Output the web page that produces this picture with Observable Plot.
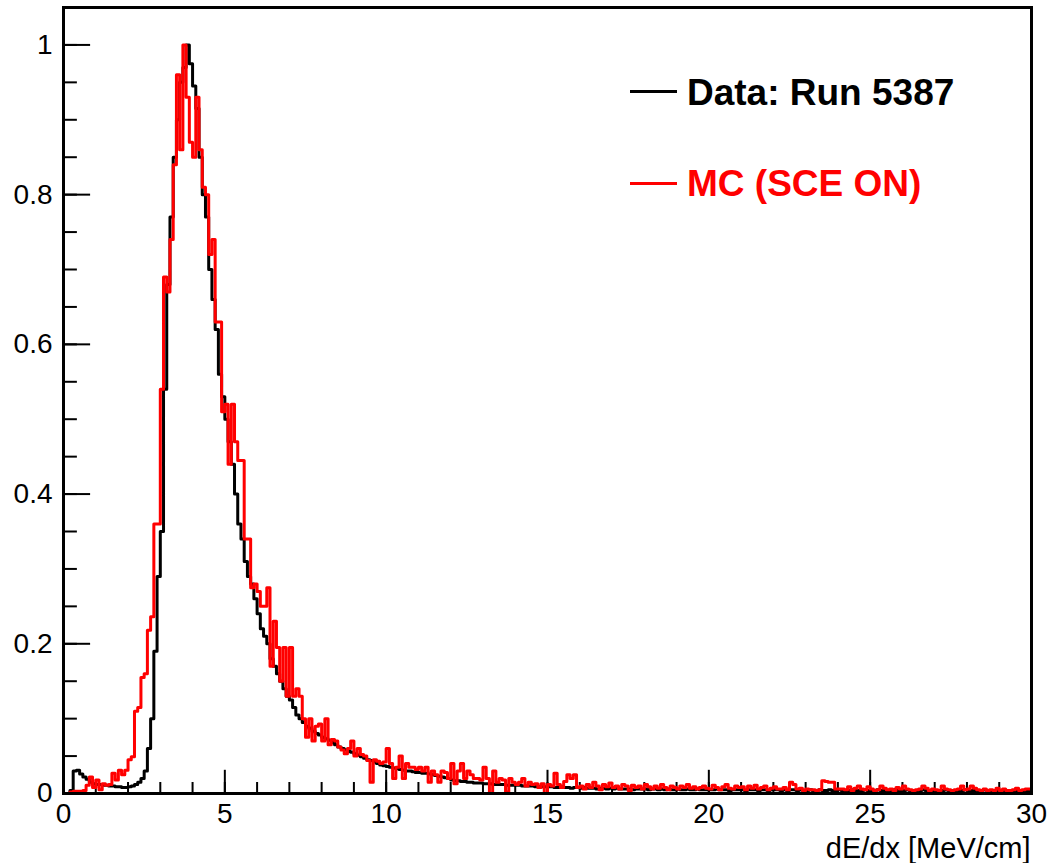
<!DOCTYPE html>
<html>
<head>
<meta charset="utf-8">
<script src="https://cdn.jsdelivr.net/npm/d3@7"></script>
<script src="https://cdn.jsdelivr.net/npm/@observablehq/plot@0.6"></script>
<style>
  body { margin: 0; background: #fff; }
  #wrap { position: relative; width: 1048px; height: 863px; font-family: "Liberation Sans", Arial, Helvetica, sans-serif; }
  .legline { position: absolute; height: 2.5px; }
  .legtext { position: absolute; font-weight: bold; font-size: 37px; line-height: 1; white-space: nowrap; }
</style>
</head>
<body>
<div id="wrap"></div>
<script>
// Histogram bin width (MeV/cm); 300 bins from 0 to 30
const binWidth = 0.1;
const xDomain = [0, 30];
const yDomain = [0, 1.05];

// Data: Run 5387 (normalized), one row per 1 MeV/cm
const dataRun5387 = [
  0, 0, 0.004, 0.03, 0.031, 0.026, 0.022, 0.019, 0.015, 0.013,
  0.012, 0.012, 0.011, 0.011, 0.01, 0.01, 0.009, 0.009, 0.008, 0.008,
  0.009, 0.01, 0.012, 0.015, 0.02, 0.03, 0.06, 0.1, 0.19, 0.29,
  0.35, 0.54, 0.68, 0.77, 0.85, 0.9, 0.95, 0.97, 1.0, 0.975,
  0.945, 0.915, 0.85, 0.8, 0.77, 0.7, 0.66, 0.62, 0.56, 0.53,
  0.5, 0.47, 0.44, 0.4, 0.36, 0.34, 0.31, 0.29, 0.28, 0.26,
  0.24, 0.22, 0.21, 0.2, 0.18, 0.17, 0.16, 0.15, 0.14, 0.13,
  0.125, 0.115, 0.105, 0.1, 0.095, 0.09, 0.087, 0.083, 0.08, 0.078,
  0.075, 0.073, 0.071, 0.068, 0.065, 0.062, 0.06, 0.058, 0.056, 0.055,
  0.053, 0.051, 0.049, 0.047, 0.045, 0.044, 0.042, 0.04, 0.038, 0.037,
  0.036, 0.035, 0.034, 0.033, 0.032, 0.031, 0.03, 0.03, 0.029, 0.028,
  0.028, 0.027, 0.027, 0.026, 0.025, 0.024, 0.023, 0.022, 0.021, 0.02,
  0.018, 0.017, 0.017, 0.016, 0.016, 0.015, 0.015, 0.014, 0.014, 0.014,
  0.013, 0.013, 0.013, 0.012, 0.012, 0.012, 0.012, 0.011, 0.011, 0.011,
  0.011, 0.011, 0.01, 0.01, 0.01, 0.01, 0.009, 0.009, 0.009, 0.009,
  0.009, 0.009, 0.008, 0.008, 0.009, 0.008, 0.008, 0.007, 0.008, 0.008,
  0.007, 0.008, 0.007, 0.007, 0.007, 0.006, 0.007, 0.007, 0.006, 0.007,
  0.006, 0.007, 0.006, 0.006, 0.006, 0.006, 0.005, 0.006, 0.006, 0.006,
  0.006, 0.005, 0.006, 0.006, 0.005, 0.006, 0.005, 0.006, 0.005, 0.005,
  0.006, 0.005, 0.005, 0.006, 0.005, 0.005, 0.006, 0.005, 0.005, 0.005,
  0.005, 0.005, 0.006, 0.005, 0.005, 0.005, 0.004, 0.005, 0.005, 0.005,
  0.005, 0.004, 0.005, 0.005, 0.005, 0.004, 0.005, 0.005, 0.004, 0.005,
  0.005, 0.005, 0.004, 0.005, 0.004, 0.005, 0.005, 0.004, 0.005, 0.004,
  0.004, 0.005, 0.004, 0.004, 0.005, 0.004, 0.004, 0.005, 0.004, 0.004,
  0.005, 0.004, 0.004, 0.004, 0.005, 0.004, 0.004, 0.004, 0.005, 0.004,
  0.004, 0.004, 0.005, 0.004, 0.004, 0.004, 0.004, 0.005, 0.004, 0.004,
  0.004, 0.005, 0.004, 0.004, 0.004, 0.004, 0.005, 0.004, 0.004, 0.004,
  0.004, 0.004, 0.004, 0.005, 0.004, 0.004, 0.004, 0.004, 0.004, 0.005,
  0.004, 0.004, 0.004, 0.004, 0.004, 0.005, 0.004, 0.004, 0.004, 0.004,
  0.004, 0.004, 0.003, 0.004, 0.004, 0.004, 0.004, 0.003, 0.004, 0.004
];

// MC (SCE ON) (normalized)
const mcSceOn = [
  0, 0, 0.002, 0.003, 0.003, 0.003, 0.004, 0.011, 0.022, 0.008,
  0.018, 0.005, 0.013, 0.011, 0.012, 0.027, 0.018, 0.031, 0.025, 0.031,
  0.045, 0.049, 0.11, 0.115, 0.155, 0.16, 0.218, 0.236, 0.36, 0.36,
  0.54, 0.69, 0.67, 0.74, 0.84, 0.96, 0.86, 1.0, 0.93, 0.87,
  0.85, 0.93, 0.86, 0.81, 0.8, 0.72, 0.74, 0.63, 0.63, 0.51,
  0.52, 0.44, 0.52, 0.47, 0.445, 0.445, 0.34, 0.34, 0.275, 0.28,
  0.27, 0.25, 0.25, 0.275, 0.17, 0.23, 0.195, 0.15, 0.195, 0.13,
  0.195, 0.13, 0.14, 0.13, 0.1, 0.075, 0.1, 0.07, 0.09, 0.093,
  0.07, 0.1, 0.065, 0.072, 0.07, 0.062, 0.058, 0.053, 0.06, 0.07,
  0.05, 0.06, 0.052, 0.05, 0.044, 0.015, 0.045, 0.043, 0.04, 0.042,
  0.06, 0.04, 0.02, 0.035, 0.05, 0.02, 0.04, 0.035, 0.035, 0.032,
  0.035, 0.03, 0.035, 0.015, 0.03, 0.025, 0.015, 0.03, 0.028, 0.02,
  0.04, 0.013, 0.03, 0.04, 0.02, 0.03, 0.025, 0.02, 0.02, 0.018,
  0.035, 0.02, 0.0, 0.03, 0.015, 0.02, 0.018, 0.002, 0.02, 0.015,
  0.012, 0.015, 0.02, 0.01, 0.015, 0.012, 0.013, 0.008, 0.013, 0.0,
  0.012, 0.01, 0.027, 0.012, 0.008, 0.016, 0.025, 0.02, 0.025, 0.008,
  0.01, 0.006, 0.012, 0.008, 0.015, 0.01, 0.005, 0.012, 0.009, 0.014,
  0.008, 0.01, 0.006, 0.012, 0.01, 0.004, 0.011, 0.008, 0.01, 0.006,
  0.012, 0.009, 0.006, 0.01, 0.007, 0.012, 0.008, 0.005, 0.01, 0.008,
  0.006, 0.01, 0.008, 0.012, 0.007, 0.009, 0.006, 0.008, 0.01, 0.007,
  0.006, 0.011, 0.008, 0.005, 0.009, 0.012, 0.007, 0.006, 0.01, 0.008,
  0.009, 0.005, 0.01, 0.007, 0.011, 0.006, 0.008, 0.01, 0.005, 0.007,
  0.009, 0.006, 0.006, 0.008, 0.005, 0.015, 0.012, 0.006, 0.007, 0.004,
  0.006, 0.005, 0.005, 0.004, 0.005, 0.017, 0.016, 0.015, 0.015, 0.006,
  0.006, 0.006, 0.005, 0.009, 0.004, 0.007, 0.01, 0.006, 0.005, 0.009,
  0.006, 0.004, 0.005, 0.01, 0.007, 0.005, 0.006, 0.004, 0.008, 0.006,
  0.01, 0.006, 0.005, 0.004, 0.005, 0.006, 0.01, 0.007, 0.004, 0.006,
  0.005, 0.004, 0.01, 0.006, 0.005, 0.004, 0.005, 0.006, 0.01, 0.005,
  0.006, 0.01, 0.007, 0.005, 0.004, 0.006, 0.004, 0.005, 0.004, 0.007,
  0.004, 0.006, 0.004, 0.004, 0.005, 0.007, 0.004, 0.005, 0.006, 0.006
];

const xMajorTicks = [0, 5, 10, 15, 20, 25, 30];
const yMajorTicks = [0, 0.2, 0.4, 0.6, 0.8, 1];
const xMinorTicks = d3.range(0, 31, 1);
const yMinorTicks = d3.range(0, 21, 1).map(i => i * 0.05);
const xTitle = "dE/dx [MeV/cm]";
const legendItems = [
  {label: "Data: Run 5387", color: "#000000"},
  {label: "MC (SCE ON)", color: "#ff0000"}
];

function toSteps(values) {
  const pts = [{x: 0, y: 0}];
  values.forEach((v, i) => pts.push({x: i * binWidth, y: v}));
  pts.push({x: values.length * binWidth, y: values[values.length - 1]});
  return pts;
}

const dataSteps = toSteps(dataRun5387);
const mcSteps = toSteps(mcSceOn);

const chart = Plot.plot({
  width: 1048,
  height: 863,
  marginLeft: 63,
  marginRight: 17,
  marginTop: 7,
  marginBottom: 70,
  style: {fontFamily: "'Liberation Sans', Arial, Helvetica, sans-serif", fontSize: "28px", color: "black", background: "white", overflow: "visible"},
  x: {domain: xDomain},
  y: {domain: yDomain},
  marks: [
    Plot.ruleX(xMinorTicks, {x: d => d, y1: 0, y2: 0.0147, stroke: "black", strokeWidth: 2}),
    Plot.ruleX(xMajorTicks, {x: d => d, y1: 0, y2: 0.031, stroke: "black", strokeWidth: 2}),
    Plot.ruleY(yMinorTicks, {y: d => d, x1: 0, x2: 0.43, stroke: "black", strokeWidth: 2}),
    Plot.ruleY(yMajorTicks, {y: d => d, x1: 0, x2: 0.84, stroke: "black", strokeWidth: 2}),
    Plot.line(dataSteps, {x: "x", y: "y", curve: "step-after", stroke: legendItems[0].color, strokeWidth: 3}),
    Plot.line(mcSteps, {x: "x", y: "y", curve: "step-after", stroke: legendItems[1].color, strokeWidth: 3}),
    Plot.frame({stroke: "black", strokeWidth: 3}),
    Plot.axisX(xMajorTicks, {tickSize: 0, tickPadding: 10, fontSize: 28, tickFormat: d => String(d), label: null}),
    Plot.axisY(yMajorTicks, {tickSize: 0, tickPadding: 11, fontSize: 28, tickFormat: d => String(d), label: null}),
    Plot.text([xTitle], {frameAnchor: "bottom-right", text: d => d, textAnchor: "end", lineAnchor: "bottom", dx: -1, dy: 64, fontSize: 29})
  ]
});

const wrap = document.getElementById("wrap");
wrap.appendChild(chart);

// Legend (inside the frame, top right)
const legPos = [{lineY: 91, textTop: 74}, {lineY: 183, textTop: 165}];
legendItems.forEach((item, i) => {
  const line = document.createElement("div");
  line.className = "legline";
  line.style.left = "630px";
  line.style.width = "47px";
  line.style.top = (legPos[i].lineY - 1) + "px";
  line.style.background = item.color;
  wrap.appendChild(line);
  const t = document.createElement("div");
  t.className = "legtext";
  t.style.left = "687px";
  t.style.top = legPos[i].textTop + "px";
  t.style.color = item.color;
  t.textContent = item.label;
  wrap.appendChild(t);
});
</script>
</body>
</html>
